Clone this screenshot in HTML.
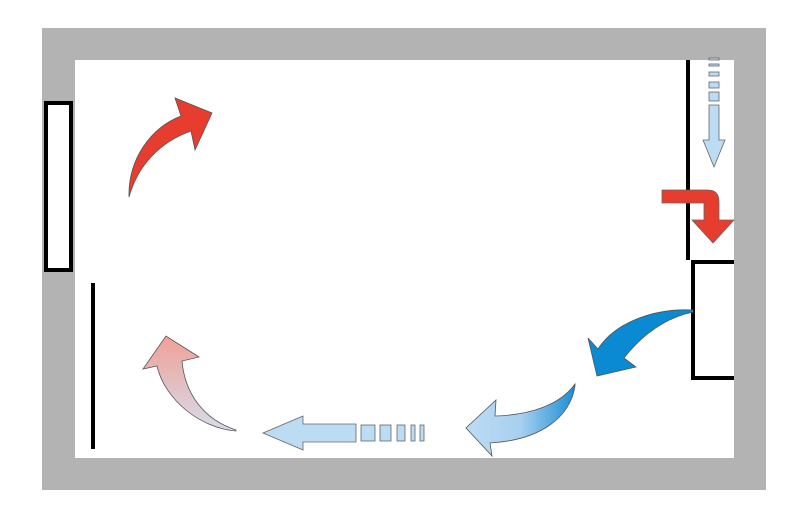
<!DOCTYPE html>
<html><head><style>body{margin:0;background:#fff}svg{display:block}</style></head><body>
<svg width="800" height="516" viewBox="0 0 800 516" xmlns="http://www.w3.org/2000/svg">
<defs>
<linearGradient id="pk" x1="0" y1="0" x2="0" y2="1"><stop offset="0" stop-color="#f0a096"/><stop offset="1" stop-color="#d6dcec"/></linearGradient>
<linearGradient id="bl" x1="0" y1="0" x2="1" y2="0"><stop offset="0" stop-color="#bcdcf4"/><stop offset="0.5" stop-color="#a8d0f0"/><stop offset="1" stop-color="#1a8ed4"/></linearGradient>
</defs>
<rect x="42" y="28" width="724" height="462" fill="#b3b3b3"/>
<rect x="75" y="60" width="659" height="398" fill="#fff"/>
<rect x="46" y="103" width="25" height="167" fill="#fff" stroke="#000" stroke-width="4"/>
<line x1="93" y1="283" x2="93" y2="449" stroke="#000" stroke-width="4"/>
<line x1="688" y1="60" x2="688" y2="260" stroke="#000" stroke-width="4"/>
<polyline points="734,262 693,262 693,378 734,378" fill="none" stroke="#000" stroke-width="4"/>
<g fill="#bcdcf4" stroke="#666" stroke-width="0.8">
<rect x="709" y="58" width="10" height="2"/><rect x="709" y="64" width="10" height="2"/>
<rect x="709" y="72" width="10" height="4"/><rect x="709" y="82" width="10" height="6"/>
<rect x="709" y="92" width="10" height="9"/>
<path d="M709,105 L719,105 L719,140 L725,140 L714,167 L703,140 L709,140 Z"/>
<rect x="361" y="425" width="14" height="16"/><rect x="380" y="425" width="11" height="16"/>
<rect x="397" y="425" width="8" height="16"/><rect x="411" y="425" width="4" height="16"/><rect x="420" y="425" width="4" height="16"/>
<path d="M356,424 L303,424 L303,416 L263,433 L303,450 L303,442 L356,442 Z"/>
</g>
<path d="M662,190 L708,190 Q719,190 719,202 L719,220 L734,220 L713,243 L692,220 L704,220 L704,203 L662,203 Z" fill="#e63d2e" stroke="#666" stroke-width="0.8"/>
<path d="M693,310 C655,308 615,322 598,349 L588,338 L597,376 L636,367 L624,358 C642,335 665,318 693,312 Z" fill="#0a8ad2" stroke="#555" stroke-width="0.8"/>
<path d="M575,384 C560,405 530,415 495,416 L496,400 L466,428 L492,456 L490,443 C540,440 570,418 575,386 Z" fill="url(#bl)" stroke="#555" stroke-width="0.8"/>
<path d="M236,430 C205,420 185,395 182,361 L199,357 L166,336 L143,369 L157,366 C165,400 200,428 236,431 Z" fill="url(#pk)" stroke="#555" stroke-width="0.8"/>
<path d="M129,197 C128,160 150,128 181,116 L175,98 L212,113 L195,150 L191,131 C160,142 138,165 129,197 Z" fill="#e63d2e" stroke="#555" stroke-width="0.8"/>
</svg>
</body></html>
